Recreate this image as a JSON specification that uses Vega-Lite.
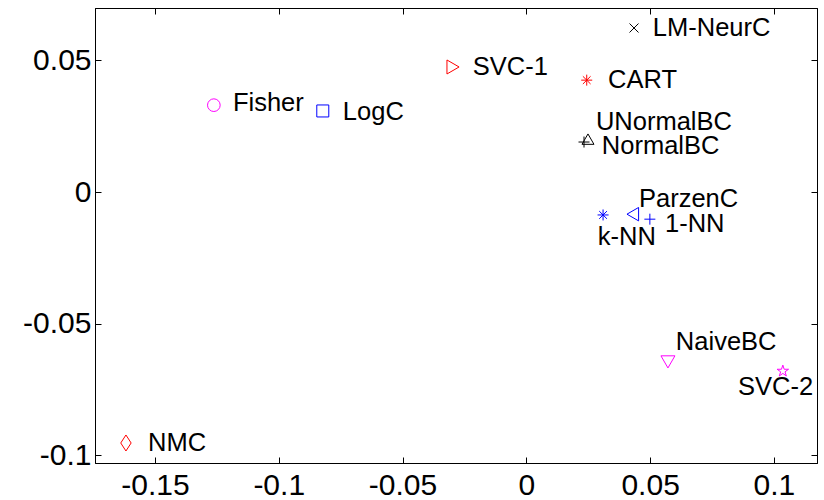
{
  "$schema": "https://vega.github.io/schema/vega-lite/v6.json",
  "width": 722,
  "height": 455,
  "autosize": {"type": "none"},
  "padding": {"left": 95, "top": 8, "right": 7, "bottom": 37},
  "background": "white",
  "config": {
    "view": {"stroke": "black", "strokeWidth": 1},
    "axis": {
      "domainColor": "black",
      "domainWidth": 1,
      "tickColor": "black",
      "tickSize": -6,
      "tickWidth": 1,
      "grid": false,
      "labelFont": "Liberation Sans",
      "labelFontSize": 30,
      "labelColor": "black",
      "title": null
    }
  },
  "data": {
    "values": [
      {"name": "Fisher", "x": -0.1262, "y": 0.0330, "lx": -0.1185, "ly": 0.0338},
      {"name": "LogC", "x": -0.0822, "y": 0.0308, "lx": -0.0741, "ly": 0.0304},
      {"name": "SVC-1", "x": -0.0296, "y": 0.0475, "lx": -0.0216, "ly": 0.0475},
      {"name": "LM-NeurC", "x": 0.0435, "y": 0.0623, "lx": 0.0511, "ly": 0.0623},
      {"name": "CART", "x": 0.0244, "y": 0.0425, "lx": 0.0330, "ly": 0.0425},
      {"name": "UNormalBC", "x": 0.0233, "y": 0.0190, "lx": 0.0281, "ly": 0.0266},
      {"name": "NormalBC", "x": 0.0249, "y": 0.0201, "lx": 0.0305, "ly": 0.0175},
      {"name": "ParzenC", "x": 0.0430, "y": -0.0084, "lx": 0.0455, "ly": -0.0027},
      {"name": "1-NN", "x": 0.0499, "y": -0.0103, "lx": 0.0560, "ly": -0.0121},
      {"name": "k-NN", "x": 0.0310, "y": -0.0087, "lx": 0.0289, "ly": -0.0171},
      {"name": "NaiveBC", "x": 0.0572, "y": -0.0645, "lx": 0.0604, "ly": -0.0569},
      {"name": "SVC-2", "x": 0.1036, "y": -0.0680, "lx": 0.0855, "ly": -0.0740},
      {"name": "NMC", "x": -0.1617, "y": -0.0953, "lx": -0.1528, "ly": -0.0953}
    ]
  },
  "layer": [
    {
      "mark": {"type": "point", "filled": false, "strokeWidth": 1, "opacity": 1},
      "encoding": {
        "x": {
          "field": "x", "type": "quantitative",
          "scale": {"domain": [-0.1742, 0.1174], "nice": false, "zero": false},
          "axis": {"orient": "bottom", "values": [-0.15, -0.1, -0.05, 0, 0.05, 0.1], "labelExpr": "'' + datum.value", "labelPadding": 13}
        },
        "y": {
          "field": "y", "type": "quantitative",
          "scale": {"domain": [-0.1029, 0.0699], "nice": false, "zero": false},
          "axis": {"orient": "left", "values": [-0.1, -0.05, 0, 0.05], "labelExpr": "'' + datum.value", "labelPadding": 10}
        },
        "shape": {
          "field": "name", "type": "nominal", "legend": null,
          "scale": {
            "domain": ["Fisher", "LogC", "SVC-1", "LM-NeurC", "CART", "UNormalBC", "NormalBC", "ParzenC", "1-NN", "k-NN", "NaiveBC", "SVC-2", "NMC"],
            "range": [
              "circle",
              "square",
              "triangle-right",
              "M-1,-1L1,1M-1,1L1,-1",
              "M-1,0L1,0M0,-1L0,1M-0.7,-0.7L0.7,0.7M-0.7,0.7L0.7,-0.7",
              "M-1,0L1,0M0,-1L0,1",
              "triangle-up",
              "triangle-left",
              "M-1,0L1,0M0,-1L0,1",
              "M-1,0L1,0M0,-1L0,1M-0.7,-0.7L0.7,0.7M-0.7,0.7L0.7,-0.7",
              "triangle-down",
              "M0,-1L0.225,-0.309L0.951,-0.309L0.363,0.118L0.588,0.809L0,0.382L-0.588,0.809L-0.363,0.118L-0.951,-0.309L-0.225,-0.309Z",
              "M0,-1L0.65,0L0,1L-0.65,0Z"
            ]
          }
        },
        "color": {
          "field": "name", "type": "nominal", "legend": null,
          "scale": {
            "domain": ["Fisher", "LogC", "SVC-1", "LM-NeurC", "CART", "UNormalBC", "NormalBC", "ParzenC", "1-NN", "k-NN", "NaiveBC", "SVC-2", "NMC"],
            "range": ["#ff00ff", "#0000ff", "#ff0000", "#000000", "#ff0000", "#000000", "#000000", "#0000ff", "#0000ff", "#0000ff", "#ff00ff", "#ff00ff", "#ff0000"]
          }
        },
        "size": {
          "field": "name", "type": "nominal", "legend": null,
          "scale": {
            "type": "ordinal",
            "domain": ["Fisher", "LogC", "SVC-1", "LM-NeurC", "CART", "UNormalBC", "NormalBC", "ParzenC", "1-NN", "k-NN", "NaiveBC", "SVC-2", "NMC"],
            "range": [160, 144, 196, 81, 121, 121, 144, 180, 121, 121, 196, 144, 256]
          }
        }
      }
    },
    {
      "mark": {"type": "text", "align": "left", "baseline": "middle", "font": "Liberation Sans", "fontSize": 25.5, "color": "black"},
      "encoding": {
        "x": {
          "field": "lx", "type": "quantitative",
          "scale": {"domain": [-0.1742, 0.1174], "nice": false, "zero": false},
          "axis": {"orient": "top", "values": [-0.15, -0.1, -0.05, 0, 0.05, 0.1], "labels": false}
        },
        "y": {
          "field": "ly", "type": "quantitative",
          "scale": {"domain": [-0.1029, 0.0699], "nice": false, "zero": false},
          "axis": {"orient": "right", "values": [-0.1, -0.05, 0, 0.05], "labels": false}
        },
        "text": {"field": "name", "type": "nominal"}
      }
    }
  ],
  "resolve": {"axis": {"x": "independent", "y": "independent"}}
}
